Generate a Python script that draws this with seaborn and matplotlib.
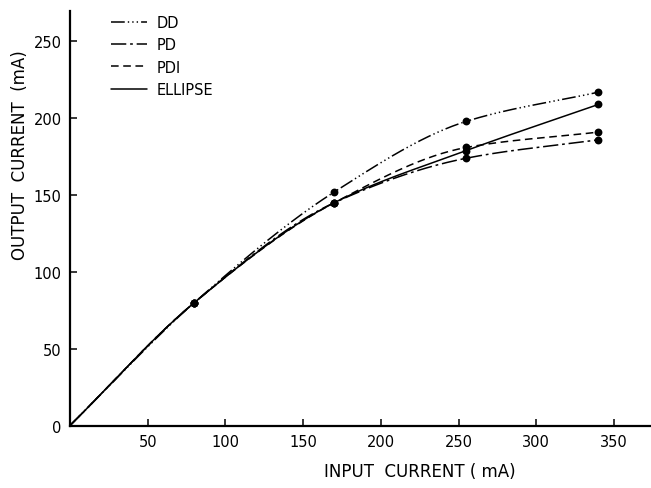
import numpy as np
import pandas as pd
import matplotlib
matplotlib.use("Agg")
import matplotlib.pyplot as plt
from matplotlib.lines import Line2D
import seaborn as sns

# Measured points: input current (mA) vs output current (mA)
input_current = [0, 80, 170, 255, 340]
dd_output = [0, 80, 152, 198, 217]
pd_output = [0, 80, 145, 174, 186]
pdi_output = [0, 80, 145, 181, 191]
ellipse_output = [0, 80, 145, 179, 209]

series_names = ["DD", "PD", "PDI", "ELLIPSE"]
x_tick_values = [50, 100, 150, 200, 250, 300, 350]
y_tick_values = [0, 50, 100, 150, 200, 250]

line_dashes = {
    "DD": (9, 2, 0.9, 2, 0.9, 2, 0.9, 2),
    "PD": (10, 2.5, 1.8, 2.5),
    "PDI": (5, 3),
    "ELLIPSE": "",
}


def smooth_curve(x, y, n=200):
    """Monotone cubic (Fritsch-Carlson) curve through the given points."""
    x = np.asarray(x, float)
    y = np.asarray(y, float)
    h = np.diff(x)
    delta = np.diff(y) / h
    m = np.zeros_like(x)
    m[0] = delta[0]
    m[-1] = delta[-1]
    for k in range(1, len(x) - 1):
        if delta[k - 1] * delta[k] > 0:
            w1 = 2 * h[k] + h[k - 1]
            w2 = h[k] + 2 * h[k - 1]
            m[k] = (w1 + w2) / (w1 / delta[k - 1] + w2 / delta[k])
    xs = np.linspace(x[0], x[-1], n)
    idx = np.clip(np.searchsorted(x, xs) - 1, 0, len(x) - 2)
    t = (xs - x[idx]) / h[idx]
    h00 = 2 * t**3 - 3 * t**2 + 1
    h10 = t**3 - 2 * t**2 + t
    h01 = -2 * t**3 + 3 * t**2
    h11 = t**3 - t**2
    ys = (h00 * y[idx] + h10 * h[idx] * m[idx]
          + h01 * y[idx + 1] + h11 * h[idx] * m[idx + 1])
    return xs, ys


outputs = {
    "DD": dd_output,
    "PD": pd_output,
    "PDI": pdi_output,
    "ELLIPSE": ellipse_output,
}

curve_frames = []
point_frames = []
for name in series_names:
    xs, ys = smooth_curve(input_current, outputs[name])
    curve_frames.append(pd.DataFrame({"input": xs, "output": ys, "series": name}))
    point_frames.append(pd.DataFrame({"input": input_current[1:],
                                      "output": outputs[name][1:],
                                      "series": name}))
curves = pd.concat(curve_frames, ignore_index=True)
points = pd.concat(point_frames, ignore_index=True)

sns.set_style("ticks")
plt.rcParams["font.family"] = ["DejaVu Sans"]
plt.rcParams["text.color"] = "black"
plt.rcParams["axes.labelcolor"] = "black"

fig = plt.figure(figsize=(6.51, 4.89), dpi=100)
ax = fig.add_axes([0.1075, 0.1278, 0.8905, 0.8482])

sns.lineplot(data=curves, x="input", y="output", style="series",
             dashes=line_dashes, color="black", linewidth=1.1,
             estimator=None, sort=False, legend=False, ax=ax)
sns.scatterplot(data=points, x="input", y="output", color="black",
                s=32, linewidth=0, legend=False, ax=ax, zorder=5)

ax.set_xlim(0, 373)
ax.set_ylim(0, 270)
ax.set_xticks(x_tick_values)
ax.set_yticks(y_tick_values)
ax.tick_params(axis="both", direction="in", length=5, width=1.1,
               labelsize=10.5, colors="black", pad=6)
for side in ("top", "right"):
    ax.spines[side].set_visible(False)
for side in ("left", "bottom"):
    ax.spines[side].set_linewidth(1.6)
    ax.spines[side].set_color("black")

ax.set_xlabel("INPUT  CURRENT ( mA)", fontsize=12, color="black")
ax.set_ylabel("OUTPUT  CURRENT  (mA)", fontsize=12, color="black")
ax.xaxis.set_label_coords(0.603, -0.088)
ax.yaxis.set_label_coords(-0.07, 0.655)

handles = [Line2D([], [], color="black", linewidth=1.1,
                  dashes=line_dashes[name] if line_dashes[name] else (None, None),
                  linestyle="-" if not line_dashes[name] else "--")
           for name in series_names]
leg = ax.legend(handles, series_names, loc="upper left",
                bbox_to_anchor=(111 / 651, 1 - 16 / 489),
                bbox_transform=fig.transFigure, frameon=False, fontsize=10.5,
                handlelength=2.5, handletextpad=0.65, labelspacing=0.5,
                borderpad=0, borderaxespad=0)
for text in leg.get_texts():
    text.set_color("black")

fig.savefig("out.png", dpi=100, facecolor="white")
